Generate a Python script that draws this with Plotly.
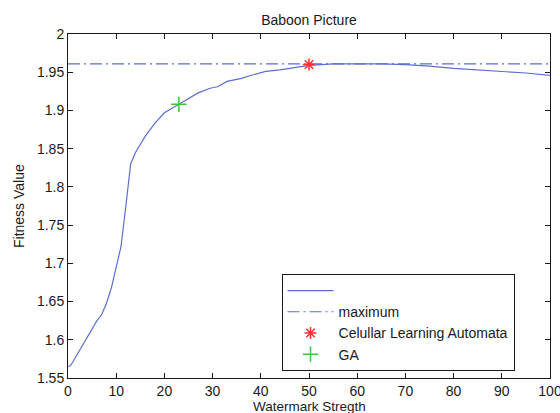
import plotly.graph_objects as go

# Data
strength = [0, 0.5, 1, 2, 3, 4, 5, 6, 7, 8, 9, 10, 11, 12, 12.5, 13, 14, 16, 18, 20, 23, 25, 27,
            29.5, 31, 33, 36, 38, 41, 44, 47, 50, 55, 60, 65, 70, 75, 80, 85, 90, 95, 100]
fitness = [1.565, 1.566, 1.571, 1.582, 1.593, 1.604, 1.615, 1.625, 1.633, 1.648, 1.668, 1.695,
           1.722, 1.775, 1.80, 1.83, 1.845, 1.866, 1.883, 1.897, 1.908, 1.916, 1.923,
           1.929, 1.931, 1.938, 1.942, 1.946, 1.951, 1.953, 1.956, 1.959, 1.961, 1.961,
           1.961, 1.960, 1.958, 1.955, 1.953, 1.951, 1.949, 1.946]
max_x = [0, 100]
max_y = [1.961, 1.961]
cla_x = [50]
cla_y = [1.96]
ga_x = [23]
ga_y = [1.908]

xticks = [0, 10, 20, 30, 40, 50, 60, 70, 80, 90, 100]
yticks = [1.55, 1.6, 1.65, 1.7, 1.75, 1.8, 1.85, 1.9, 1.95, 2.0]
ytick_text = ["1.55", "1.6", "1.65", "1.7", "1.75", "1.8", "1.85", "1.9", "1.95", "2"]

line_color = "#5b6fd0"
font = dict(family="Liberation Sans, Arial, sans-serif", size=14, color="#1a1a1a")

fig = go.Figure()
fig.add_trace(go.Scatter(x=strength, y=fitness, mode="lines", name=" ",
                         line=dict(color=line_color, width=1.2)))
fig.add_trace(go.Scatter(x=max_x, y=max_y, mode="lines", name="maximum",
                         line=dict(color=line_color, width=1.2, dash="12px,4px,2px,4px")))
fig.add_trace(go.Scatter(x=cla_x, y=cla_y, mode="markers", name="Celullar Learning Automata",
                         marker=dict(symbol="asterisk-open", size=10, color="#ff3030",
                                     line=dict(color="#ff3030", width=1.5))))
fig.add_trace(go.Scatter(x=ga_x, y=ga_y, mode="markers", name="GA",
                         marker=dict(symbol="cross-thin-open", size=11, color="#40c040",
                                     line=dict(color="#40c040", width=1.5))))

axis_common = dict(showgrid=False, zeroline=False, showline=True, linecolor="#1a1a1a",
                   linewidth=1, mirror="ticks", ticks="inside", ticklen=5,
                   tickcolor="#1a1a1a", tickfont=font, automargin=False,
                   ticklabeloverflow="allow")

plot_h = 413 - 34 - 35
plot_w = 560 - 68 - 10

fig.update_layout(
    width=560, height=413,
    margin=dict(l=68, r=10, t=34, b=35),
    paper_bgcolor="white", plot_bgcolor="white",
    font=font,
    title=dict(text="Baboon Picture", x=(68 + 550) / 2 / 560, xanchor="center",
               y=1 - 20 / 413, yanchor="middle", yref="container",
               font=dict(family=font["family"], size=14, color="#1a1a1a")),
    xaxis=dict(range=[0, 100], tickvals=xticks, **axis_common),
    yaxis=dict(range=[1.55, 2.0], tickvals=yticks, ticktext=ytick_text, **axis_common),
    legend=dict(x=0.443, y=0.3025, xanchor="left", yanchor="top",
                bordercolor="#1a1a1a", borderwidth=1, bgcolor="white",
                font=font, tracegroupgap=0, itemwidth=46),
    showlegend=True,
    annotations=[
        dict(text="Watermark Stregth", xref="paper", yref="paper", x=0.5,
             y=-(398 - 378) / plot_h, xanchor="center", yanchor="top",
             showarrow=False, borderpad=0,
             font=dict(family=font["family"], size=13.5, color="#1a1a1a")),
        dict(text="Fitness Value", xref="paper", yref="paper", x=-(68 - 19) / plot_w,
             y=0.5, xanchor="center", yanchor="middle", textangle=-90,
             showarrow=False, font=font),
    ],
)

fig.write_html("out.html")
